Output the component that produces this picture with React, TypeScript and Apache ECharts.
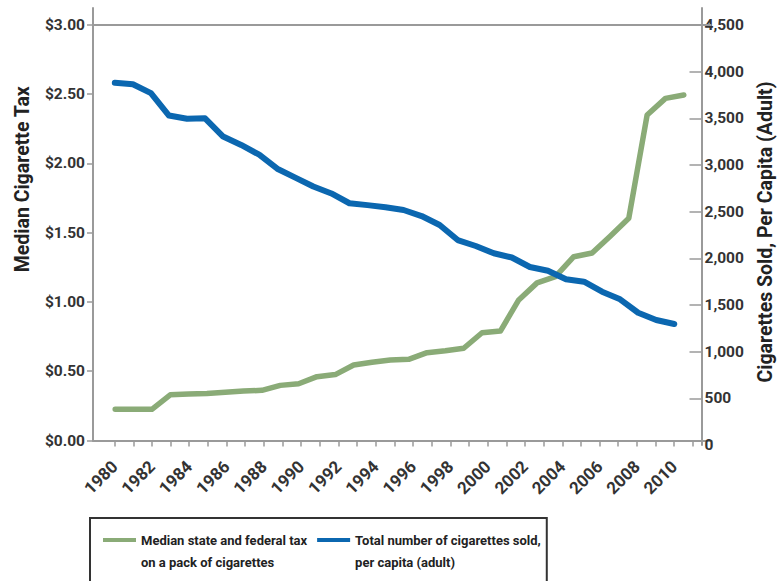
import { useEffect, useRef } from 'react';
import * as echarts from 'echarts';

const years = [
  1980, 1981, 1982, 1983, 1984, 1985, 1986, 1987, 1988, 1989, 1990, 1991, 1992, 1993, 1994, 1995,
  1996, 1997, 1998, 1999, 2000, 2001, 2002, 2003, 2004, 2005, 2006, 2007, 2008, 2009, 2010, 2011,
];

const taxValues = [
  0.225, 0.225, 0.225, 0.33, 0.335, 0.34, 0.348, 0.357, 0.362, 0.398, 0.41, 0.461, 0.476, 0.545, 0.565, 0.581,
  0.586, 0.634, 0.648, 0.666, 0.778, 0.79, 1.015, 1.138, 1.183, 1.327, 1.354, 1.477, 1.604, 2.35, 2.47, 2.495,
];

const cigaretteValues = [
  3880, 3865, 3770, 3530, 3495, 3500, 3305, 3215, 3110, 2960, 2865, 2770, 2695, 2590, 2570, 2547,
  2518, 2453, 2357, 2196, 2132, 2054, 2009, 1907, 1867, 1775, 1750, 1642, 1561, 1417, 1339, 1296,
];

const taxTicks = [0, 0.5, 1, 1.5, 2, 2.5, 3];
const cigaretteTickLabels = [0, 500, 1000, 1500, 2000, 2500, 3000, 3500, 4000, 4500];
const cigaretteTickMarks = [500, 1000, 1500, 2000, 2500, 3000, 3500, 4000];
const yearLabels = [1980, 1982, 1984, 1986, 1988, 1990, 1992, 1994, 1996, 1998, 2000, 2002, 2004, 2006, 2008, 2010];

const taxName = 'Median state and federal tax\non a pack of cigarettes';
const cigaretteName = 'Total number of cigarettes sold,\nper capita (adult)';
const leftAxisName = 'Median Cigarette Tax';
const rightAxisName = 'Cigarettes Sold, Per Capita (Adult)';

const FONT = "Roboto, 'Liberation Sans', sans-serif";
const AXIS_GRAY = '#9a9a9a';
const GREEN = '#8aab77';
const BLUE = '#0b67b0';

export default function App() {
  const ref = useRef<HTMLDivElement>(null);

  useEffect(() => {
    if (!ref.current) return;
    const chart = echarts.init(ref.current, null, { renderer: 'svg' });

    const axisLine = { show: true, onZero: false, lineStyle: { color: AXIS_GRAY, width: 2 } };
    const legendIcon = 'path://M0,0H33V4H0Z M0,25.99H0.01V26H0Z';

    chart.setOption({
      animation: false,
      backgroundColor: '#ffffff',
      textStyle: { fontFamily: FONT },
      grid: [
        { left: 93, right: 71.5, top: 8, bottom: 140.5 },
        { left: 93, right: 71.5, top: 8, bottom: 136 },
      ],
      xAxis: [
        {
          type: 'value',
          gridIndex: 0,
          min: 1978.84,
          max: 2012,
          axisLine,
          axisTick: {
            show: true,
            customValues: years,
            length: 6,
            lineStyle: { color: AXIS_GRAY, width: 1.5 },
          },
          axisLabel: {
            customValues: yearLabels,
            rotate: 45,
            margin: 23,
            fontSize: 17,
            fontWeight: 'bold',
            fontFamily: FONT,
            color: '#333',
            formatter: (v: number) => String(v),
          },
          splitLine: { show: false },
        },
        { type: 'value', gridIndex: 0, min: 1978.79, max: 2012.51, show: false },
        { type: 'value', gridIndex: 1, min: 1978.79, max: 2012.51, show: false },
      ],
      yAxis: [
        {
          type: 'value',
          gridIndex: 0,
          position: 'left',
          min: 0,
          max: 3.1227,
          axisLine,
          axisTick: {
            show: true,
            customValues: taxTicks,
            length: 6,
            lineStyle: { color: AXIS_GRAY, width: 1.5 },
          },
          axisLabel: {
            customValues: taxTicks,
            margin: 8,
            fontSize: 15.5,
            fontWeight: 'bold',
            fontFamily: FONT,
            color: '#333',
            formatter: (v: number) => '$' + v.toFixed(2),
          },
          splitLine: { show: false },
          name: leftAxisName,
          nameLocation: 'middle',
          nameRotate: 90,
          nameGap: 61,
          nameTextStyle: {
            fontSize: 19.5,
            fontWeight: 'bold',
            fontFamily: FONT,
            color: '#222',
            padding: [0, 0, 0, 90],
          },
        },
        {
          type: 'value',
          gridIndex: 1,
          position: 'right',
          min: 0,
          max: 4682,
          axisLine,
          axisTick: {
            show: true,
            inside: true,
            customValues: cigaretteTickMarks,
            length: 12,
            lineStyle: { color: AXIS_GRAY, width: 1.5 },
          },
          axisLabel: {
            customValues: cigaretteTickLabels,
            margin: 3,
            fontSize: 15.5,
            fontWeight: 'bold',
            fontFamily: FONT,
            color: '#333',
            formatter: (v: number) => v.toLocaleString('en-US'),
          },
          splitLine: { show: false },
          name: rightAxisName,
          nameLocation: 'middle',
          nameRotate: 90,
          nameGap: 53.5,
          nameTextStyle: {
            fontSize: 19.5,
            fontWeight: 'bold',
            fontFamily: FONT,
            color: '#222',
            padding: [0, 11, 0, 0],
          },
        },
      ],
      legend: {
        left: 90,
        top: 518,
        orient: 'horizontal',
        padding: [11, 6, 30, 13],
        itemGap: 10,
        itemWidth: 33,
        itemHeight: 26,
        borderColor: '#333',
        borderWidth: 2,
        icon: legendIcon,
        itemStyle: { borderWidth: 0 },
        textStyle: {
          fontSize: 13,
          lineHeight: 22,
          fontWeight: 'bold',
          fontFamily: FONT,
          color: '#222',
        },
        data: [taxName, cigaretteName],
      },
      series: [
        {
          name: taxName,
          type: 'line',
          xAxisIndex: 1,
          yAxisIndex: 0,
          symbol: 'none',
          showSymbol: false,
          color: GREEN,
          itemStyle: { color: GREEN },
          lineStyle: { color: GREEN, width: 5.5, cap: 'round', join: 'round' },
          data: years.map((y, i) => [y, taxValues[i]]),
          markLine: {
            silent: true,
            symbol: 'none',
            label: { show: false },
            lineStyle: { color: AXIS_GRAY, width: 2, type: 'solid' },
            data: [{ yAxis: taxTicks[taxTicks.length - 1] }],
          },
          z: 2,
        },
        {
          name: cigaretteName,
          type: 'line',
          xAxisIndex: 2,
          yAxisIndex: 1,
          symbol: 'none',
          showSymbol: false,
          color: BLUE,
          itemStyle: { color: BLUE },
          lineStyle: { color: BLUE, width: 6, cap: 'round', join: 'round' },
          data: years.map((y, i) => [y, cigaretteValues[i]]),
          z: 3,
        },
      ],
    });

    return () => chart.dispose();
  }, []);

  return (
    <div
      ref={ref}
      style={{ position: 'absolute', left: 0, top: 0, width: 783, height: 581, background: '#fff' }}
    />
  );
}
